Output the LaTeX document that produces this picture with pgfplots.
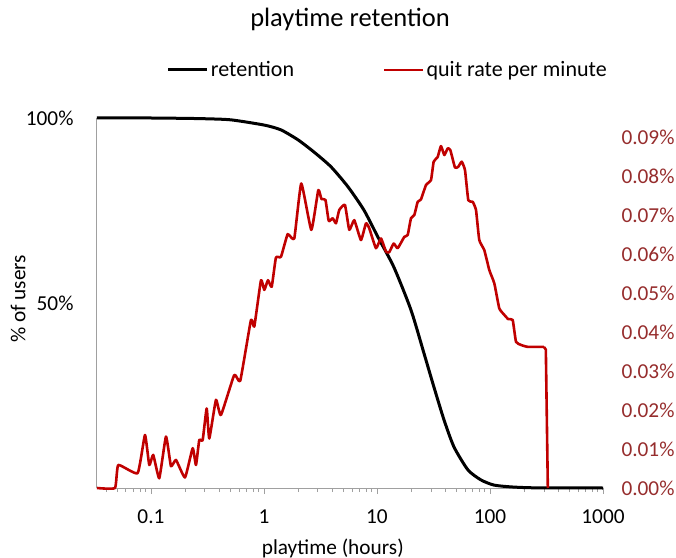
\documentclass[border=0pt]{standalone}
\usepackage{pgfplots}
\pgfplotsset{compat=1.18}
\usepackage{fontspec}
\setmainfont{Carlito}

\definecolor{quitred}{RGB}{192,0,0}
\definecolor{rightlab}{RGB}{150,45,45}
\definecolor{axgray}{RGB}{160,160,160}
\newcommand\tickfont{\fontsize{21.3bp}{25bp}\selectfont}

\begin{document}
\begin{tikzpicture}
\useasboundingbox (-97bp,-70bp) rectangle (579bp,488bp);
% left axis: retention
\begin{axis}[
  width=506bp, height=370bp, scale only axis, clip=false,
  xmode=log, xmin=0.0333, xmax=1000,
  ymin=0, ymax=100,
  axis x line*=bottom, axis y line*=left,
  axis line style={axgray, line width=1bp},
  xtick={0.1,1,10,100,1000}, xticklabels={0.1,1,10,100,1000},
  minor xtick={0.04,0.05,0.06,0.07,0.08,0.09,0.2,0.3,0.4,0.5,0.6,0.7,0.8,0.9,2,3,4,5,6,7,8,9,20,30,40,50,60,70,80,90,200,300,400,500,600,700,800,900},
  ytick={50,100}, yticklabels={50\%,100\%},
  tick align=outside, major tick length=6bp, minor tick length=4bp,
  x tick style={axgray, line width=0.8bp}, ytick style={draw=none},
  ticklabel style={font=\tickfont},
  xticklabel style={yshift=-12bp},
  yticklabel style={xshift=-14bp},
  xlabel={playtime (hours)}, ylabel={\% of users},
  xlabel style={at={(axis description cs:0.466,-0.162)}, anchor=center, font=\tickfont},
  ylabel style={at={(axis description cs:-0.156,0.511)}, anchor=center, font=\tickfont},
  title={playtime retention},
  title style={at={(0.5,1.249)}, anchor=center, font=\fontsize{26.5bp}{30bp}\selectfont},
]
\addplot[black, line width=3bp, smooth, tension=0.4] coordinates {
(0.0333,100) (0.1,100) (0.2,99.9) (0.3,99.8) (0.51,99.5) (1,98.1) (1.41,96.8)
(2,94.1) (2.77,90.8) (3.92,86.8) (5.54,81.4) (7.67,75.1) (10.2,67.8)
(14.1,59.7) (20,48.1) (26,36.5) (31.9,27.3) (39.2,18.4) (48,11.1)
(63.8,4.9) (83,2.2) (108,0.8) (153,0.3) (250,0.05) (1000,0)
};
\end{axis}
% right axis: quit rate per minute
\begin{axis}[
  width=506bp, height=370bp, scale only axis, clip=false,
  xmode=log, xmin=0.0333, xmax=1000,
  ymin=0, ymax=0.0949, scaled y ticks=false,
  axis x line=none, axis y line*=right,
  y axis line style={draw=none}, ytick style={draw=none},
  ytick={0,0.01,0.02,0.03,0.04,0.05,0.06,0.07,0.08,0.09},
  yticklabels={0.00\%,0.01\%,0.02\%,0.03\%,0.04\%,0.05\%,0.06\%,0.07\%,0.08\%,0.09\%},
  yticklabel style={font=\tickfont, color=rightlab, xshift=15bp},
  legend columns=2,
  legend style={at={(0.132,1.13)}, anchor=west, draw=none, fill=none,
    font=\fontsize{22bp}{26bp}\selectfont, /tikz/every even column/.append style={column sep=87bp},
    nodes={inner sep=2bp}},
  legend image code/.code={\draw[#1] (0bp,0bp) -- (39bp,0bp);},
]
\addlegendimage{black, line width=3bp}
\addlegendentry{retention}
\addplot[quitred, line width=2.6bp, line join=round, smooth, tension=0.25] coordinates {
(0.0333,0) (0.048,0) (0.0514,0.0059) (0.0762,0.0038) (0.0885,0.0136)
(0.0966,0.0059) (0.1047,0.0085) (0.1184,0.0025) (0.1358,0.0132)
(0.1503,0.0056) (0.1665,0.0072) (0.2000,0.0027) (0.2339,0.0102)
(0.2502,0.0059) (0.2675,0.0123) (0.2868,0.0123) (0.3112,0.0204)
(0.3281,0.0127) (0.3760,0.0226) (0.4160,0.0187) (0.5458,0.0290)
(0.6166,0.0275) (0.7670,0.0431) (0.8206,0.0414) (0.9407,0.0533)
(1.006,0.0508) (1.085,0.0533) (1.170,0.0516) (1.276,0.0591)
(1.414,0.0593) (1.621,0.0651) (1.854,0.0640) (2.138,0.0781)
(2.623,0.0662) (3.024,0.0764) (3.227,0.0741) (3.500,0.0739)
(3.742,0.0685) (4.053,0.0692) (4.336,0.0679) (4.637,0.0713)
(5.207,0.0726) (5.686,0.0662) (6.296,0.0687) (7.215,0.0636)
(7.991,0.0679) (8.549,0.0666) (9.797,0.0615) (10.85,0.0640)
(12.02,0.0606) (12.85,0.0605) (14.05,0.0627) (15.25,0.0615)
(17.44,0.0644) (18.70,0.0649) (19.99,0.0692) (21.39,0.0700)
(22.92,0.0734) (24.49,0.0740) (27.14,0.0777) (30.06,0.0790)
(31.75,0.0837) (34.44,0.0849) (36.83,0.0877) (39.42,0.0854)
(42.24,0.0871) (44.54,0.0867) (49.0,0.0822) (52.4,0.0824)
(56.2,0.0837) (60.1,0.0815) (64.3,0.0738) (70.3,0.0734)
(75.2,0.0713) (80.4,0.0636) (89.1,0.0610) (98.6,0.0559)
(109.2,0.0525) (120.8,0.0461) (133.9,0.0444) (145.2,0.0433)
(158.8,0.0431) (169.9,0.0375) (188.0,0.0367) (215.6,0.0362)
(300.0,0.0362)
};
\addlegendentry{quit rate per minute}
\addplot[quitred, line width=2.6bp, line join=round, forget plot] coordinates {
(300.0,0.0362) (312.0,0.0355) (325.0,0)
};
\end{axis}
\end{tikzpicture}
\end{document}
